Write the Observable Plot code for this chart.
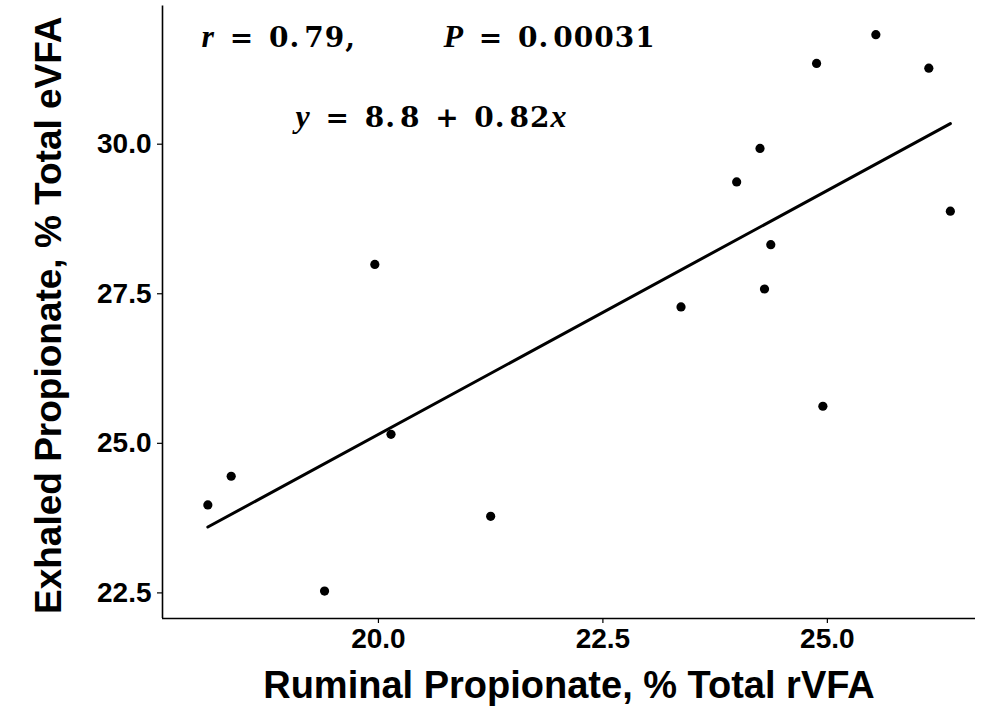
<!DOCTYPE html>
<html>
<head>
<meta charset="utf-8">
<script src="https://cdn.jsdelivr.net/npm/d3@7"></script>
<script src="https://cdn.jsdelivr.net/npm/@observablehq/plot@0.6"></script>
<style>
  html, body { margin: 0; padding: 0; background: #fff; }
  #chart svg { display: block; }
</style>
</head>
<body>
<div id="chart"></div>
<script>
// Ruminal vs exhaled propionate (% of total VFA), one point per animal
const ruminal = [18.10, 18.36, 19.40, 19.96, 20.14, 21.25, 23.37, 23.99, 24.25, 24.30, 24.37, 24.88, 24.95, 25.54, 26.13, 26.37];
const exhaled = [23.97, 24.45, 22.53, 27.99, 25.15, 23.78, 27.28, 29.37, 29.93, 27.58, 28.32, 31.35, 25.62, 31.83, 31.27, 28.88];

// Fitted line and correlation statistics
const intercept = 8.84;
const slope = 0.8155;
const rValue = "0.79";
const pValue = "0.00031";

// Axis settings
const xTicks = [20.0, 22.5, 25.0];
const yTicks = [22.5, 25.0, 27.5, 30.0];
const xLimits = [17.595, 26.65];
const yLimits = [22.072, 32.31];
const xTitle = "Ruminal Propionate, % Total rVFA";
const yTitle = "Exhaled Propionate, % Total eVFA";

const points = ruminal.map((x, i) => ({x, y: exhaled[i]}));
const fitLine = d3.extent(ruminal).map(x => ({x, y: intercept + slope * x}));

const statsText = [`r = ${rValue},`, `P = ${pValue}`];
const eqText = `y = ${intercept.toFixed(1)} + ${slope.toFixed(2)}x`;
const mathStrings = [...statsText, eqText];

const tickFont = {fontSize: 28, fontWeight: "bold", fill: "black"};
const titleFont = {fontWeight: "bold", fill: "black"};
const mathFont = {textAnchor: "start", lineAnchor: "middle", fontSize: 28, fontWeight: "bold", fontFamily: "'DejaVu Serif', serif", fill: "black"};

const chart = Plot.plot({
  width: 981,
  height: 718,
  marginLeft: 162,
  marginRight: 6,
  marginTop: 5.5,
  marginBottom: 100,
  x: {domain: xLimits},
  y: {domain: yLimits},
  style: {fontFamily: "'Liberation Sans', Arial, Helvetica, sans-serif", color: "black", background: "white"},
  marks: [
    Plot.ruleX([xLimits[0]], {stroke: "black", strokeWidth: 1.6}),
    Plot.ruleY([yLimits[0]], {stroke: "black", strokeWidth: 1.6}),
    Plot.axisX({ticks: xTicks, tickFormat: d3.format(".1f"), tickSize: 5, tickPadding: 5, label: null, strokeWidth: 1.2, ...tickFont}),
    Plot.axisY({ticks: yTicks, tickFormat: d3.format(".1f"), tickSize: 5, tickPadding: 6, label: null, strokeWidth: 1.2, ...tickFont}),
    Plot.text([xTitle], {frameAnchor: "bottom", dy: 67, lineAnchor: "middle", textAnchor: "middle", fontSize: 38, ...titleFont}),
    Plot.text([yTitle], {frameAnchor: "left", dx: -113, dy: 3, rotate: -90, lineAnchor: "middle", textAnchor: "middle", fontSize: 37, ...titleFont}),
    Plot.line(fitLine, {x: "x", y: "y", stroke: "black", strokeWidth: 3}),
    Plot.dot(points, {x: "x", y: "y", r: 4.6, fill: "black", stroke: "none"}),
    Plot.text([statsText[0]], {frameAnchor: "top-left", dx: 39, dy: 32, ...mathFont}),
    Plot.text([statsText[1]], {frameAnchor: "top-left", dx: 281, dy: 32, ...mathFont}),
    Plot.text([eqText], {frameAnchor: "top-left", dx: 133, dy: 112, ...mathFont})
  ]
});

// Typeset the statistics like math: italic variable names, roomier operators
d3.select(chart).selectAll("text")
  .filter(function() { return mathStrings.includes(this.textContent); })
  .each(function() {
    const node = d3.select(this);
    const content = this.textContent;
    node.text(null).attr("letter-spacing", 1);
    let pad = 0;
    for (const ch of content) {
      const span = node.append("tspan").text(ch === " " ? "\u00a0" : ch);
      if (/[A-Za-z]/.test(ch)) {
        span.attr("font-family", "'Liberation Serif', serif").attr("font-style", "italic").attr("font-size", 32);
      }
      let shift = pad;
      pad = 0;
      if (ch === "=" || ch === "+") { shift += 4; pad = 4; }
      if (ch === ".") pad = 4;
      if (shift) span.attr("dx", shift);
    }
  });

document.getElementById("chart").append(chart);
</script>
</body>
</html>
